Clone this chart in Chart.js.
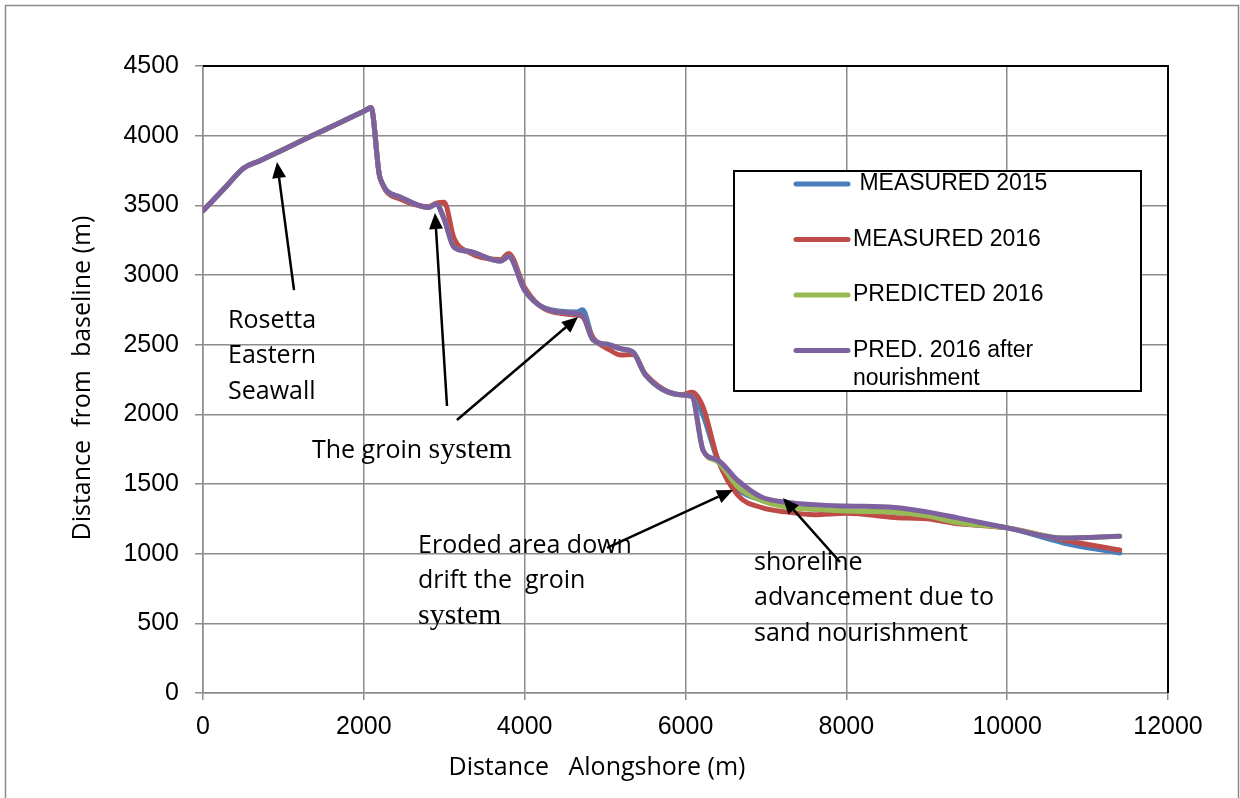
<!DOCTYPE html>
<html>
<head>
<meta charset="utf-8">
<script src="https://cdn.jsdelivr.net/npm/chart.js@4.4.1/dist/chart.umd.min.js"></script>
<style>
  body { margin: 0; background: #fff; }
  #wrap { width: 1240px; height: 798px; position: relative; }
</style>
</head>
<body>
<div id="wrap"><canvas id="shoreChart"></canvas></div>
<script>
// distance alongshore (m), shared by all four series
const distance = [0, 300, 500, 700, 1250, 2000, 2090, 2200, 2450, 2800, 2900, 3000, 3120, 3300, 3700, 3800, 4000, 4250,
  4650, 4720, 4850, 5050, 5200, 5350, 5500, 5950, 6080, 6220, 6400, 6650, 6950, 7250, 7600,
  8000, 8600, 9000, 9400, 10000, 10700, 11400];

// distance from baseline (m)
const measured2015 = [3460, 3643, 3765, 3818, 3970, 4175, 4200, 3700, 3560, 3485, 3508, 3400, 3205, 3170, 3100, 3132, 2895, 2762,
  2735, 2750, 2545, 2495, 2470, 2445, 2285, 2140, 2145, 1990, 1675, 1465, 1385, 1355, 1320,
  1306, 1298, 1272, 1222, 1185, 1077, 1005];
const measured2016 = [3460, 3643, 3765, 3818, 3970, 4175, 4200, 3700, 3545, 3490, 3515, 3522, 3265, 3165, 3110, 3155, 2910, 2755,
  2712, 2700, 2550, 2465, 2425, 2430, 2290, 2140, 2158, 2050, 1680, 1420, 1330, 1300, 1280,
  1290, 1260, 1250, 1215, 1185, 1098, 1026];
const predicted2016 = [3460, 3643, 3765, 3818, 3970, 4175, 4200, 3700, 3560, 3485, 3508, 3400, 3200, 3170, 3100, 3132, 2890, 2762,
  2722, 2710, 2535, 2500, 2470, 2445, 2285, 2140, 2128, 1740, 1660, 1480, 1380, 1335, 1318,
  1306, 1298, 1272, 1222, 1185, 1112, 1125];
const predNourished = [3460, 3643, 3765, 3818, 3970, 4175, 4200, 3700, 3560, 3485, 3508, 3400, 3200, 3170, 3100, 3132, 2890, 2762,
  2722, 2710, 2535, 2500, 2470, 2445, 2285, 2140, 2128, 1740, 1672, 1525, 1405, 1370, 1352,
  1342, 1332, 1300, 1255, 1185, 1112, 1125];

const seriesNames = [' MEASURED 2015', 'MEASURED 2016', 'PREDICTED 2016', ['PRED. 2016 after', 'nourishment']];
const seriesColors = ['#4a7ebb', '#be4b48', '#98b954', '#7d60a0'];

const xRange = [0, 12000, 2000];
const yRange = [0, 4500, 500];

// arrows: [fromX, fromY, toX, toY] in data units
const arrows = [
  [1132, 2892, 920, 3811],
  [3034, 2060, 2885, 3445],
  [3158, 1959, 4663, 2699],
  [5024, 1041, 6591, 1457],
  [7921, 940, 7212, 1400]
];

const SANS = '25px "Open Sans"';
const SERIF = '30px "Liberation Serif"';
// notes: anchor in data units (left edge, first baseline), lines made of [text, font] pieces
const notes = [
  { x: 311, y: 2620, lines: [[['Rosetta', SANS]], [['Eastern', SANS]], [['Seawall', SANS]]] },
  { x: 1355, y: 1687, lines: [[['The groin ', SANS], ['system', SERIF]]] },
  { x: 2674, y: 1005, lines: [[['Eroded area down', SANS]], [['drift the  groin', SANS]], [['system', SERIF]]] },
  { x: 6852, y: 883, lines: [[['shoreline', SANS]], [['advancement due to', SANS]], [['sand nourishment', SANS]]] }
];

const toPoints = ys => distance.map((x, i) => ({ x: x, y: ys[i] }));
const allSeries = [measured2015, measured2016, predicted2016, predNourished];

const datasets = allSeries.map((ys, i) => ({
  label: Array.isArray(seriesNames[i]) ? seriesNames[i].join(' ') : seriesNames[i],
  data: toPoints(ys),
  borderColor: seriesColors[i],
  backgroundColor: seriesColors[i],
  borderWidth: 5,
  pointRadius: 0,
  fill: false,
  cubicInterpolationMode: 'monotone',
  borderCapStyle: 'round',
  borderJoinStyle: 'round',
  order: 4 - i
}));

function drawArrow(ctx, x1, y1, x2, y2) {
  const ang = Math.atan2(y2 - y1, x2 - x1);
  const len = 16, half = 7;
  const bx = x2 - len * Math.cos(ang), by = y2 - len * Math.sin(ang);
  ctx.beginPath();
  ctx.moveTo(x1, y1);
  ctx.lineTo(bx, by);
  ctx.stroke();
  ctx.beginPath();
  ctx.moveTo(x2, y2);
  ctx.lineTo(bx + half * Math.sin(ang), by - half * Math.cos(ang));
  ctx.lineTo(bx - half * Math.sin(ang), by + half * Math.cos(ang));
  ctx.closePath();
  ctx.fill();
}

const extras = {
  id: 'extras',
  afterDatasetsDraw(chart) {
    const ctx = chart.ctx;
    const xs = chart.scales.x, ys = chart.scales.y;
    const area = chart.chartArea;
    ctx.save();

    // black top and right edges of the plot area
    ctx.strokeStyle = '#000';
    ctx.lineWidth = 2;
    ctx.beginPath();
    ctx.moveTo(area.left, area.top);
    ctx.lineTo(area.right, area.top);
    ctx.lineTo(area.right, area.bottom);
    ctx.stroke();

    // arrows
    ctx.strokeStyle = '#000';
    ctx.fillStyle = '#000';
    ctx.lineWidth = 2.5;
    arrows.forEach(a => {
      drawArrow(ctx, xs.getPixelForValue(a[0]), ys.getPixelForValue(a[1]),
        xs.getPixelForValue(a[2]), ys.getPixelForValue(a[3]));
    });

    // notes
    ctx.textBaseline = 'alphabetic';
    ctx.textAlign = 'left';
    notes.forEach(n => {
      const left = xs.getPixelForValue(n.x);
      let base = ys.getPixelForValue(n.y);
      n.lines.forEach(line => {
        let cx = left;
        line.forEach(piece => {
          ctx.font = piece[1];
          ctx.fillText(piece[0], cx, base);
          cx += ctx.measureText(piece[0]).width;
        });
        base += 35.5;
      });
    });

    // legend box
    const lg = { left: 734, top: 171, right: 1141, bottom: 391 };
    ctx.fillStyle = '#fff';
    ctx.fillRect(lg.left, lg.top, lg.right - lg.left, lg.bottom - lg.top);
    ctx.strokeStyle = '#000';
    ctx.lineWidth = 2;
    ctx.strokeRect(lg.left, lg.top, lg.right - lg.left, lg.bottom - lg.top);
    ctx.font = '23px "Liberation Sans"';
    ctx.textBaseline = 'middle';
    ctx.lineCap = 'round';
    chart.data.datasets.forEach((ds, i) => {
      const y = 184 + i * 55.5;
      ctx.strokeStyle = ds.borderColor;
      ctx.lineWidth = 5;
      ctx.beginPath();
      ctx.moveTo(796, y);
      ctx.lineTo(848, y);
      ctx.stroke();
      ctx.fillStyle = '#000';
      const name = seriesNames[i];
      const lines = Array.isArray(name) ? name : [name];
      lines.forEach((t, k) => ctx.fillText(t, 853, y + k * 28));
    });

    // axis titles
    ctx.fillStyle = '#000';
    ctx.font = SANS;
    ctx.textAlign = 'center';
    ctx.textBaseline = 'alphabetic';
    ctx.fillText('Distance   Alongshore (m)', 597, 775);
    ctx.save();
    ctx.translate(90, 378);
    ctx.rotate(-Math.PI / 2);
    ctx.fillText('Distance  from  baseline (m)', 0, 0);
    ctx.restore();

    // outer frame
    ctx.strokeStyle = '#8a8a8a';
    ctx.lineWidth = 1.5;
    ctx.strokeRect(5.5, 5.5, 1233, 800);
    ctx.restore();
  }
};

const gridColor = '#8c8c8c';

new Chart(document.getElementById('shoreChart'), {
  type: 'line',
  data: { datasets: datasets },
  options: {
    responsive: true,
    maintainAspectRatio: false,
    animation: false,
    layout: { padding: { top: 66, right: 72, left: 0, bottom: 0 } },
    plugins: {
      legend: { display: false },
      tooltip: { enabled: false }
    },
    scales: {
      x: {
        type: 'linear',
        min: xRange[0], max: xRange[1],
        ticks: { stepSize: xRange[2], color: '#000', font: { family: 'Liberation Sans', size: 25 }, padding: 12, maxRotation: 0,
          callback: v => String(v) },
        grid: { color: gridColor, lineWidth: 1.5, tickLength: 7 },
        border: { color: gridColor, width: 1.5 },
        afterFit: s => { s.height = 105; }
      },
      y: {
        min: yRange[0], max: yRange[1],
        ticks: { stepSize: yRange[2], color: '#000', font: { family: 'Liberation Sans', size: 25 }, padding: 16,
          callback: v => String(v) },
        grid: { color: gridColor, lineWidth: 1.5, tickLength: 8 },
        border: { color: gridColor, width: 1.5 },
        afterFit: s => { s.width = 203; }
      }
    }
  },
  plugins: [extras]
});
</script>
</body>
</html>
